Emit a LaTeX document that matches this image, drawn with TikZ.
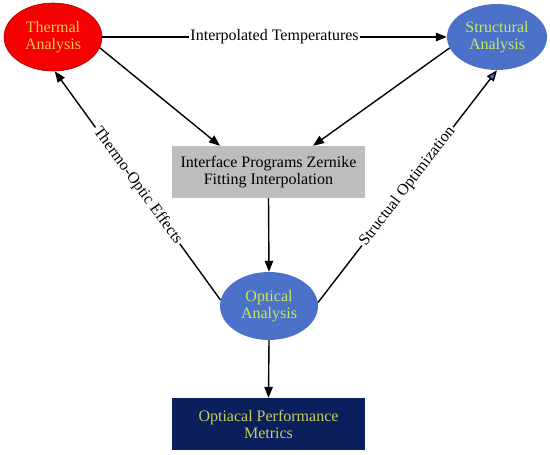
\documentclass[tikz,border=0pt]{standalone}
\usepackage{fontspec}
\setmainfont{Liberation Serif}
\usetikzlibrary{shapes.geometric,arrows.meta,calc}
\definecolor{thred}{HTML}{F40000}
\definecolor{thtxt}{HTML}{F7C84A}
\definecolor{ellblue}{HTML}{4C71C9}
\definecolor{bltxt}{HTML}{C9E85C}
\definecolor{boxgray}{HTML}{BDBDBD}
\definecolor{navybox}{HTML}{0A1F5C}
\definecolor{navytxt}{HTML}{C8CC5C}
\begin{document}
\begin{tikzpicture}[x=1pt,y=-1pt,
  font=\fontsize{16}{17}\selectfont,
  ell/.style={ellipse, inner sep=0pt, align=center},
  rbox/.style={rectangle, inner sep=0pt, align=center, minimum width=193, minimum height=52},
  arr/.style={line width=1.4pt, -{Triangle[length=11pt,width=8.5pt]}},
  lab/.style={fill=white, inner sep=1.5pt}]
\useasboundingbox (0,0) rectangle (550,455);
\node[ell, fill=thred, draw=thred!70!black, line width=0.6pt, text=thtxt, minimum width=98, minimum height=68] (th) at (53,37) {Thermal\\Analysis};
\node[ell, fill=ellblue, text=bltxt, minimum width=100, minimum height=66] (st) at (497,37) {Structural\\Analysis};
\node[rbox, fill=boxgray, text=black] (if) at (268.5,172) {Interface Programs Zernike\\Fitting Interpolation};
\node[ell, fill=ellblue, text=bltxt, minimum width=98, minimum height=68] (op) at (269,306) {Optical\\Analysis};
\node[rbox, fill=navybox, text=navytxt] (mt) at (268.5,424) {Optiacal Performance\\Metrics};

\draw[arr] (th.east) -- node[lab]{Interpolated Temperatures} (st.west);
\draw[arr] (th.-13) -- ([xshift=-48.5pt]if.north);
\draw[arr] (st.193) -- ([xshift=44.5pt]if.north);
\draw[arr] (if.south) -- (op.north);
\draw[arr] (op.173) -- node[lab, sloped]{Thermo-Optic Effects} (th.-87);
\draw[line width=1.4pt, -{Triangle[length=11pt,width=8.5pt,fill=ellblue]}] (op.4) -- node[lab, sloped]{Structual Optimization} (st.-90);
\draw[arr] (op.south) -- (mt.north);
\end{tikzpicture}
\end{document}
